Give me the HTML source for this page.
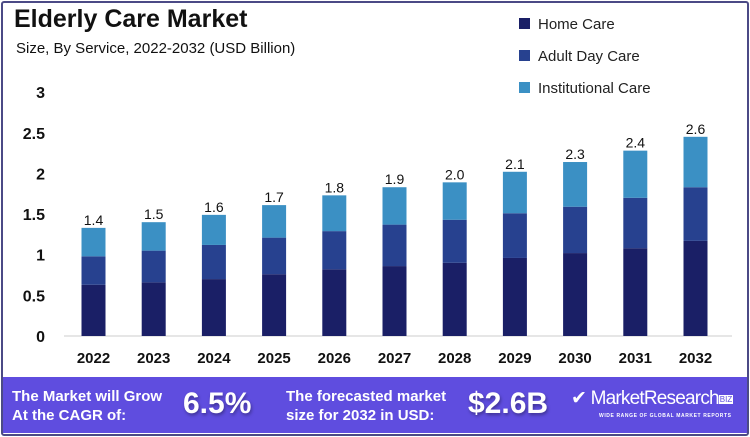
<!DOCTYPE html>
<html><head><meta charset="utf-8"><style>
body{margin:0;width:750px;height:437px;background:#fff;font-family:"Liberation Sans",sans-serif;overflow:hidden}
#frame{position:absolute;left:1px;top:1px;width:744px;height:431px;border:2px solid #4b4a86;border-radius:3px}
#footer{position:absolute;left:3px;top:377px;width:744px;height:56px;background:#5f4ddf;color:#fff;font-weight:bold}
.ft{position:absolute;font-size:15px;line-height:19px}
.big{position:absolute;font-size:30px;top:10px;text-shadow:1px 2px 3px rgba(0,0,0,.35)}
</style></head><body>
<div id="frame"></div>
<div style="position:absolute;left:14px;top:5px;font-size:25px;font-weight:bold;color:#111">Elderly Care Market</div>
<div style="position:absolute;left:16px;top:40px;font-size:15px;color:#111">Size, By Service, 2022-2032 (USD Billion)</div>
<svg id="chart" width="750" height="437" style="position:absolute;left:0;top:0"></svg>
<div id="footer">
 <div class="ft" style="left:9px;top:10px">The Market will Grow<br>At the CAGR of:</div>
 <div class="big" style="left:180px">6.5%</div>
 <div class="ft" style="left:283px;top:10px">The forecasted market<br>size for 2032 in USD:</div>
 <div class="big" style="left:465px">$2.6B</div>
 <div style="position:absolute;left:568px;top:10px;font-size:19px;font-weight:normal;letter-spacing:-0.8px;white-space:nowrap">&#10004; MarketResearch<span style="font-size:8px;background:#fff;color:#5f4ddf;padding:0 1px;vertical-align:2px;letter-spacing:0">BIZ</span></div>
 <div style="position:absolute;left:596px;top:36px;font-size:5px;letter-spacing:0.6px;white-space:nowrap">WIDE RANGE OF GLOBAL MARKET REPORTS</div>
</div>
<script>
const years=["2022","2023","2024","2025","2026","2027","2028","2029","2030","2031","2032"];
const homeCare=[0.63,0.66,0.70,0.76,0.82,0.86,0.90,0.96,1.02,1.08,1.17];
const adultDayCare=[0.35,0.39,0.42,0.45,0.47,0.51,0.53,0.55,0.57,0.62,0.66];
const institutionalCare=[0.35,0.35,0.37,0.40,0.44,0.46,0.46,0.51,0.55,0.58,0.62];
const totalLabels=["1.4","1.5","1.6","1.7","1.8","1.9","2.0","2.1","2.3","2.4","2.6"];
const yTicks=[0,0.5,1,1.5,2,2.5,3];
const seriesNames=["Home Care","Adult Day Care","Institutional Care"];
const colors=["#1a1f66","#27418f","#3b90c4"];
const NS="http://www.w3.org/2000/svg";
const svg=document.getElementById('chart');
const y=v=>336-v*81.3;
const x=i=>93.5+i*60.2;
const bw=24;
function mk(t,a){const e=document.createElementNS(NS,t);for(const k in a)e.setAttribute(k,a[k]);svg.appendChild(e);return e;}
let ax=mk('line',{x1:64,x2:732,y1:336,y2:336,stroke:'#ccc','stroke-width':1});


yTicks.forEach(t=>{const e=mk('text',{x:45,y:y(t)+6,'text-anchor':'end','font-size':16,'font-weight':'bold',fill:'#111'});e.textContent=String(t);

});
const series=[homeCare,adultDayCare,institutionalCare];
years.forEach((yr,i)=>{let base=0;
 series.forEach((s,j)=>{const r=mk('rect',{x:x(i)-bw/2,y:y(base+s[i]),width:bw,height:y(base)-y(base+s[i]),fill:colors[j]});
 
 
 base+=s[i];});
 const l=mk('text',{x:x(i),y:y(base)-3,'text-anchor':'middle','font-size':14,fill:'#111'});l.textContent=totalLabels[i];
 
 
 const xl=mk('text',{x:x(i),y:363,'text-anchor':'middle','font-size':15,'font-weight':'bold',fill:'#111'});xl.textContent=yr;
 
 
});
seriesNames.forEach((n,j)=>{const yy=24+j*32;
 const r=mk('rect',{x:519,y:yy-6,width:11,height:11,fill:colors[j]});
 
 
 const t=mk('text',{x:538,y:yy+5,'font-size':15,fill:'#222'});t.textContent=n;
 
 
});
</script>
</body></html>
